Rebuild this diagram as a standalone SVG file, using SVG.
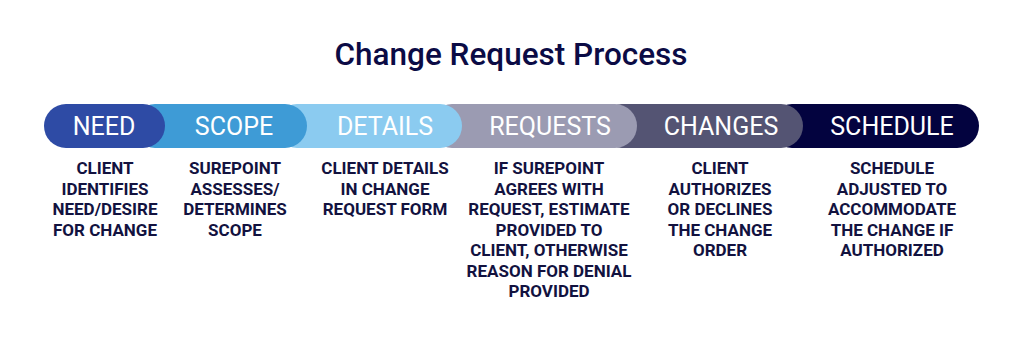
<svg xmlns="http://www.w3.org/2000/svg" width="1024" height="346" viewBox="0 0 1024 346">
<style>
.title{font-family:Roboto,"Liberation Sans",sans-serif;font-weight:500;font-size:31.5px;fill:#0b0b45;text-anchor:middle}
.lbl{font-family:Roboto,"Liberation Sans",sans-serif;font-weight:400;font-size:25px;fill:#ffffff;text-anchor:middle}
.desc{font-family:Roboto,"Liberation Sans",sans-serif;font-weight:700;font-size:17px;fill:#12123f;text-anchor:middle}
</style>
<rect width="1024" height="346" fill="#ffffff"/>
<text class="title" x="511" y="65">Change Request Process</text>
<g id="schedule">
<rect x="770" y="104" width="209" height="44" rx="22" fill="#03033f"/>
<text class="lbl" x="892" y="135">SCHEDULE</text>
<text class="desc" x="892" y="174">SCHEDULE<tspan x="892" dy="20.5">ADJUSTED TO</tspan><tspan x="892" dy="20.5">ACCOMMODATE</tspan><tspan x="892" dy="20.5">THE CHANGE IF</tspan><tspan x="892" dy="20.5">AUTHORIZED</tspan></text>
</g>
<g id="changes">
<rect x="600" y="104" width="203" height="44" rx="22" fill="#545473"/>
<text class="lbl" x="721" y="135">CHANGES</text>
<text class="desc" x="720" y="174">CLIENT<tspan x="720" dy="20.5">AUTHORIZES</tspan><tspan x="720" dy="20.5">OR DECLINES</tspan><tspan x="720" dy="20.5">THE CHANGE</tspan><tspan x="720" dy="20.5">ORDER</tspan></text>
</g>
<g id="requests">
<rect x="430" y="104" width="207" height="44" rx="22" fill="#9b9bb2"/>
<text class="lbl" x="550" y="135">REQUESTS</text>
<text class="desc" x="549" y="174">IF SUREPOINT<tspan x="549" dy="20.5">AGREES WITH</tspan><tspan x="549" dy="20.5">REQUEST, ESTIMATE</tspan><tspan x="549" dy="20.5">PROVIDED TO</tspan><tspan x="549" dy="20.5">CLIENT, OTHERWISE</tspan><tspan x="549" dy="20.5">REASON FOR DENIAL</tspan><tspan x="549" dy="20.5">PROVIDED</tspan></text>
</g>
<g id="details">
<rect x="275" y="104" width="187" height="44" rx="22" fill="#8bcbf0"/>
<text class="lbl" x="385" y="135">DETAILS</text>
<text class="desc" x="385" y="174">CLIENT DETAILS<tspan x="385" dy="20.5">IN CHANGE</tspan><tspan x="385" dy="20.5">REQUEST FORM</tspan></text>
</g>
<g id="scope">
<rect x="133" y="104" width="174" height="44" rx="22" fill="#3e9bd6"/>
<text class="lbl" x="234" y="135">SCOPE</text>
<text class="desc" x="235" y="174">SUREPOINT<tspan x="235" dy="20.5">ASSESSES/</tspan><tspan x="235" dy="20.5">DETERMINES</tspan><tspan x="235" dy="20.5">SCOPE</tspan></text>
</g>
<g id="need">
<rect x="44" y="104" width="121" height="44" rx="22" fill="#2e4ba5"/>
<text class="lbl" x="104" y="135">NEED</text>
<text class="desc" x="105" y="174">CLIENT<tspan x="105" dy="20.5">IDENTIFIES</tspan><tspan x="105" dy="20.5">NEED/DESIRE</tspan><tspan x="105" dy="20.5">FOR CHANGE</tspan></text>
</g>
</svg>
